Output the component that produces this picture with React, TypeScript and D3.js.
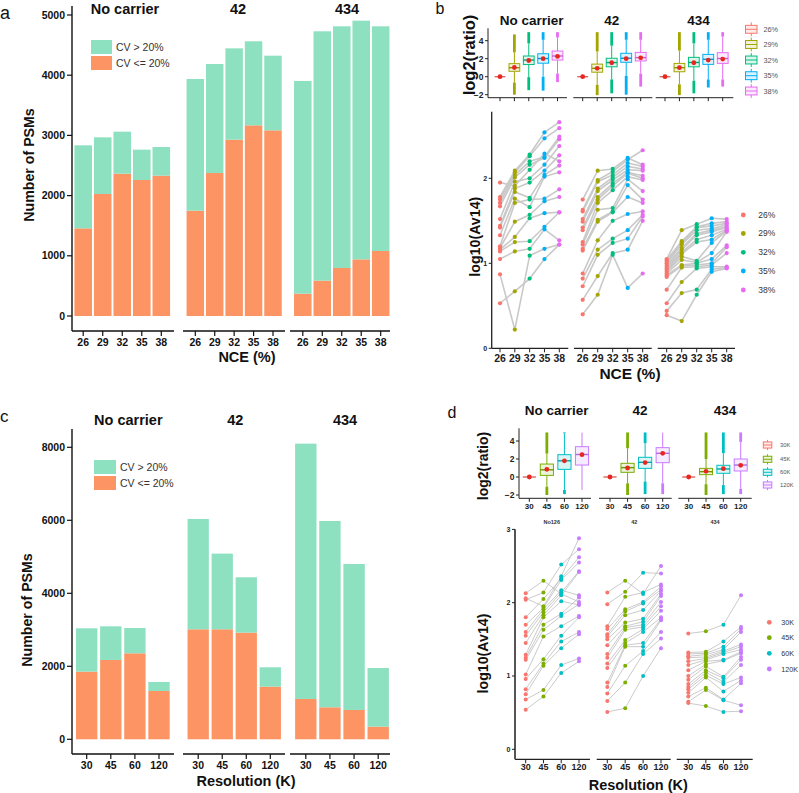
import React from 'react';
import * as d3 from 'd3';

const FONT = "'Liberation Sans', Arial, Helvetica, sans-serif";

// ---------------- data ----------------
const carriers = ['No carrier', '42', '434'];
const smallFacetTitles = ['No126', '42', '434'];
const nceLevels = ['26', '29', '32', '35', '38'];
const resLevels = ['30', '45', '60', '120'];
const nceLegend = ['26%', '29%', '32%', '35%', '38%'];
const resLegend = ['30K', '45K', '60K', '120K'];
const cvLabels = ['CV > 20%', 'CV <= 20%'];

// panel a: PSM counts (per carrier, per NCE)
const nceCvLow = [
  [1456, 2027, 2364, 2259, 2331],
  [1750, 2375, 2929, 3167, 3084],
  [371, 587, 797, 941, 1080],
];
const nceCvHigh = [
  [1379, 941, 698, 504, 476],
  [2187, 1811, 1517, 1396, 1240],
  [3533, 4142, 4015, 3965, 3732],
];
const nceYTicks = [0, 1000, 2000, 3000, 4000, 5000];

// panel c: PSM counts (per carrier, per resolution)
const resCvLow = [
  [1854, 2174, 2356, 1324],
  [3014, 3014, 2922, 1443],
  [1105, 877, 804, 347],
];
const resCvHigh = [
  [1187, 922, 694, 247],
  [3023, 2073, 1516, 530],
  [6995, 5105, 4000, 1607],
];
const resYTicks = [0, 2000, 4000, 6000, 8000];

// box stats: [q1, median, q3, mean, whiskerLow, whiskerHigh, outlierLow, outlierHigh]
const nceBoxStats = [
  [
    [0, 0, 0, 0, 0, 0, 0, 0],
    [0.6, 1.0, 1.45, 1.02, -0.65, 2.7, -2.0, 4.7],
    [1.35, 1.85, 2.3, 1.8, -0.05, 3.7, -1.5, 4.95],
    [1.5, 2.02, 2.55, 2.0, 0.0, 4.1, -1.55, 4.95],
    [1.85, 2.3, 2.85, 2.25, 0.35, 4.35, -0.6, 4.95],
  ],
  [
    [0, 0, 0, 0, 0, 0, 0, 0],
    [0.5, 0.93, 1.4, 0.93, -0.9, 2.8, -2.05, 4.95],
    [1.1, 1.57, 2.05, 1.55, -0.3, 3.45, -1.85, 4.95],
    [1.6, 2.05, 2.6, 2.0, 0.1, 4.1, -2.0, 4.95],
    [1.75, 2.12, 2.7, 2.1, 0.35, 4.1, -1.1, 4.95],
  ],
  [
    [0, 0, 0, 0, 0, 0, 0, 0],
    [0.55, 1.0, 1.48, 1.0, -0.85, 2.9, -2.05, 4.95],
    [1.1, 1.58, 2.15, 1.55, -0.45, 3.7, -1.85, 4.95],
    [1.37, 1.93, 2.48, 1.85, -0.3, 4.1, -1.2, 4.95],
    [1.48, 2.02, 2.67, 1.96, -0.3, 4.45, -1.1, 4.95],
  ],
];
const resBoxStats = [
  [
    [0, 0, 0, 0, 0, 0, 0, 0],
    [0.18, 0.8, 1.44, 0.85, -1.07, 2.6, -2.0, 4.95],
    [0.85, 1.8, 2.48, 1.8, -1.44, 4.85, -1.9, 4.95],
    [1.33, 2.5, 3.37, 2.48, -1.44, 4.93, -1.44, 4.93],
  ],
  [
    [0, 0, 0, 0, 0, 0, 0, 0],
    [0.52, 1.04, 1.52, 1.0, -0.7, 3.2, -2.0, 4.95],
    [0.96, 1.63, 2.19, 1.6, -0.5, 3.75, -1.9, 4.95],
    [1.59, 2.63, 3.26, 2.63, -0.7, 4.93, -1.9, 4.93],
  ],
  [
    [0, 0, 0, 0, 0, 0, 0, 0],
    [0.26, 0.59, 0.96, 0.63, -0.8, 2.0, -2.0, 4.95],
    [0.41, 0.89, 1.3, 0.93, -0.9, 2.65, -1.9, 4.95],
    [0.67, 1.33, 2.0, 1.3, -1.3, 3.9, -1.9, 4.95],
  ],
];
const ratioTicks = [-2, 0, 2, 4];

// peptide log10(Av14) per carrier; each row = one peptide across NCE 26..38
const nceAv14 = [
  [
    [1.95, 1.91, 2.1, 2.29, 2.2],
    [1.78, 2.09, 2.28, 2.54, 2.66],
    [1.75, 2.07, 2.26, 2.47, 2.59],
    [1.71, 2.04, 2.2, 2.25, 2.49],
    [1.67, 2.01, 2.16, 2.24, 2.46],
    [1.52, 1.96, 2.0, 2.16, 2.38],
    [1.44, 1.88, 1.95, 2.09, 2.27],
    [1.42, 1.84, 1.77, 2.04, 2.15],
    [1.33, 1.76, 1.66, 2.02, 2.07],
    [1.2, 1.71, 1.75, 1.76, 1.87],
    [1.18, 1.49, 1.57, 1.73, 1.78],
    [1.16, 1.31, 1.53, 1.59, 1.6],
    [1.14, 1.25, 1.26, 1.43, 1.6],
    [1.05, 1.14, 1.17, 1.4, 1.27],
    [0.87, 0.22, 1.09, 1.17, 1.22],
    [0.53, 0.67, 0.82, 1.05, 1.22],
  ],
  [
    [1.75, 2.09, 2.11, 2.24, 2.16],
    [1.63, 1.98, 2.08, 2.22, 2.33],
    [1.61, 1.96, 2.04, 2.18, 2.14],
    [1.52, 1.88, 2.01, 2.14, 2.11],
    [1.49, 1.85, 1.98, 2.1, 2.09],
    [1.42, 1.78, 1.94, 2.07, 2.03],
    [1.39, 1.75, 1.91, 2.06, 2.0],
    [1.25, 1.71, 1.86, 2.02, 1.98],
    [1.22, 1.63, 1.65, 1.99, 1.85],
    [1.17, 1.51, 1.61, 1.92, 1.75],
    [1.15, 1.49, 1.6, 1.78, 1.71],
    [0.88, 1.27, 1.5, 1.58, 1.61],
    [0.82, 1.16, 1.29, 1.39, 1.57],
    [0.73, 1.1, 1.24, 1.29, 1.55],
    [0.57, 0.85, 1.12, 1.16, 1.5],
    [0.4, 0.63, 1.1, 0.71, 0.88],
  ],
  [
    [1.05, 1.39, 1.46, 1.53, 1.52],
    [1.04, 1.26, 1.43, 1.47, 1.49],
    [1.02, 1.24, 1.42, 1.44, 1.47],
    [1.0, 1.22, 1.39, 1.41, 1.45],
    [0.98, 1.18, 1.35, 1.39, 1.43],
    [0.96, 1.16, 1.33, 1.37, 1.42],
    [0.94, 1.13, 1.28, 1.33, 1.4],
    [0.92, 1.11, 1.25, 1.28, 1.39],
    [0.9, 1.08, 1.03, 1.24, 1.38],
    [0.88, 1.04, 1.01, 1.12, 1.37],
    [0.86, 0.98, 1.0, 1.05, 1.21],
    [0.84, 0.97, 0.98, 1.0, 1.19],
    [0.69, 0.95, 0.96, 0.98, 1.12],
    [0.53, 0.78, 0.94, 0.96, 0.96],
    [0.44, 0.65, 0.69, 0.93, 0.95],
    [0.39, 0.32, 0.63, 0.9, 0.94],
  ],
];
const nceAvTicks = [0, 1, 2];

// peptide log10(Av14) per carrier; each row = one peptide across 30K..120K
const resAv14 = [
  [
    [2.13, 2.3, 2.12, 2.01],
    [2.06, 1.95, 2.36, 2.88],
    [2.04, 2.14, 2.52, 2.73],
    [1.8, 2.05, 2.33, 2.62],
    [1.7, 1.93, 2.31, 2.55],
    [1.6, 1.91, 2.17, 2.1],
    [1.55, 1.87, 2.14, 2.43],
    [1.45, 1.83, 2.1, 2.42],
    [1.29, 1.8, 2.02, 1.97],
    [1.25, 1.7, 1.85, 2.07],
    [1.22, 1.63, 1.82, 1.98],
    [1.02, 1.54, 1.68, 1.82],
    [0.96, 1.23, 1.55, 1.8],
    [0.82, 1.17, 1.47, 1.6],
    [0.75, 1.14, 1.38, 1.57],
    [0.68, 0.81, 1.15, 1.24],
    [0.54, 0.72, 1.04, 1.2],
  ],
  [
    [2.14, 2.3, 2.12, 2.5],
    [1.98, 2.15, 2.41, 2.4],
    [1.68, 2.08, 2.14, 2.25],
    [1.64, 1.91, 2.01, 2.22],
    [1.57, 1.88, 1.99, 2.18],
    [1.54, 1.83, 1.9, 2.16],
    [1.5, 1.73, 1.78, 2.12],
    [1.42, 1.68, 1.74, 2.09],
    [1.3, 1.66, 1.7, 2.01],
    [1.25, 1.63, 1.67, 1.95],
    [1.17, 1.49, 1.64, 1.89],
    [1.11, 1.45, 1.6, 1.8],
    [0.91, 1.42, 1.45, 1.78],
    [0.85, 1.4, 1.4, 1.76],
    [0.76, 1.14, 1.34, 1.6],
    [0.66, 0.91, 1.3, 1.51],
    [0.51, 0.56, 1.0, 1.38],
  ],
  [
    [1.58, 1.61, 1.7, 2.1],
    [1.32, 1.33, 1.47, 1.67],
    [1.3, 1.31, 1.4, 1.64],
    [1.27, 1.29, 1.36, 1.6],
    [1.25, 1.26, 1.34, 1.43],
    [1.2, 1.24, 1.32, 1.4],
    [1.15, 1.22, 1.3, 1.36],
    [1.08, 1.2, 1.22, 1.33],
    [1.0, 1.16, 1.21, 1.31],
    [0.95, 1.13, 0.99, 1.26],
    [0.89, 1.08, 0.97, 1.22],
    [0.85, 1.05, 0.92, 1.15],
    [0.82, 1.01, 0.89, 0.98],
    [0.77, 0.98, 0.79, 0.94],
    [0.72, 0.84, 0.68, 0.9],
    [0.65, 0.81, 0.67, 0.6],
    [0.63, 0.59, 0.51, 0.52],
  ],
];
const resAvTicks = [0, 1, 2, 3];

// ---------------- styles ----------------
const GREEN = '#8DE0C0';
const ORANGE = '#FC9464';
const HUE5 = ['#F8766D', '#A3A500', '#00BF7D', '#00B0F6', '#E76BF3'];
const HUE4 = ['#F8766D', '#7CAE00', '#00BFC4', '#C77CFF'];
const MEAN_RED = '#E8261F';

type Facet = { ax0: number; ax1: number; t0: number; t1: number };

function PanelLetter({ x, y, t, size }: { x: number; y: number; t: string; size: number }) {
  return (
    <text x={x} y={y} fontSize={size} fill="#111">
      {t}
    </text>
  );
}

function VTitle({ x, y, t, size }: { x: number; y: number; t: string; size: number }) {
  return (
    <text
      transform={`translate(${x},${y}) rotate(-90)`}
      textAnchor="middle"
      dy="0.35em"
      fontSize={size}
      fontWeight="bold"
      fill="#111"
    >
      {t}
    </text>
  );
}

function StackedBars(p: {
  levels: string[];
  low: number[][];
  high: number[][];
  yMax: number;
  yTicks: number[];
  y0: number;
  yTop: number;
  axisTop: number;
  xAxisY: number;
  yAxisX: number;
  facets: Facet[];
  barFrac: number;
  tickLabelY: number;
  xTitle: string;
  xTitleX: number;
  xTitleY: number;
  titleY: number;
  titleX: number[];
  legX: number;
  legY: number;
  legW: number;
  legH: number;
  legGap: number;
}) {
  const y = d3.scaleLinear().domain([0, p.yMax]).range([p.y0, p.yTop]);
  return (
    <g>
      {p.facets.map((f, fi) => {
        const x = d3.scalePoint<string>().domain(p.levels).range([f.t0, f.t1]);
        const bw = x.step() * p.barFrac;
        const rows = p.levels.map((lv, i) => ({ level: lv, low: p.low[fi][i], high: p.high[fi][i] }));
        const series = d3.stack<any>().keys(['low', 'high'])(rows);
        return (
          <g key={fi}>
            {series.map((s, si) =>
              s.map((d, di) => (
                <rect
                  key={si + '-' + di}
                  x={(x(rows[di].level) as number) - bw / 2}
                  y={y(d[1])}
                  width={bw}
                  height={y(d[0]) - y(d[1])}
                  fill={si === 0 ? ORANGE : GREEN}
                />
              ))
            )}
            <line x1={f.ax0} x2={f.ax1} y1={p.xAxisY} y2={p.xAxisY} stroke="#111" strokeWidth={1.4} />
            {p.levels.map((lv) => (
              <g key={lv}>
                <line x1={x(lv)} x2={x(lv)} y1={p.xAxisY} y2={p.xAxisY + 5} stroke="#111" strokeWidth={1.2} />
                <text x={x(lv)} y={p.tickLabelY} dy="0.35em" textAnchor="middle" fontSize={10.5} fontWeight="bold" fill="#111">
                  {lv}
                </text>
              </g>
            ))}
            <text x={p.titleX[fi]} y={p.titleY} dy="0.35em" textAnchor="middle" fontSize={14.5} fontWeight="bold" fill="#111">
              {carriers[fi]}
            </text>
          </g>
        );
      })}
      <line x1={p.yAxisX} x2={p.yAxisX} y1={p.axisTop} y2={p.xAxisY} stroke="#111" strokeWidth={1.4} />
      {p.yTicks.map((t) => (
        <g key={t}>
          <line x1={p.yAxisX - 5} x2={p.yAxisX} y1={y(t)} y2={y(t)} stroke="#111" strokeWidth={1.2} />
          <text x={p.yAxisX - 7} y={y(t)} dy="0.35em" textAnchor="end" fontSize={10.5} fontWeight="bold" fill="#111">
            {t}
          </text>
        </g>
      ))}
      <text x={p.xTitleX} y={p.xTitleY} dy="0.35em" textAnchor="middle" fontSize={14.5} fontWeight="bold" fill="#111">
        {p.xTitle}
      </text>
      {cvLabels.map((lab, i) => (
        <g key={lab}>
          <rect x={p.legX} y={p.legY + i * p.legGap} width={p.legW} height={p.legH} fill={i === 0 ? GREEN : ORANGE} />
          <text x={p.legX + p.legW + 4} y={p.legY + i * p.legGap + p.legH / 2} dy="0.35em" fontSize={10.5} fill="#333">
            {lab}
          </text>
        </g>
      ))}
    </g>
  );
}

function BoxPanel(p: {
  levels: string[];
  stats: number[][][];
  colors: string[];
  y0: number;
  ppu: number;
  yTicks: number[];
  axisTop: number;
  xAxisY: number;
  yAxisX: number;
  facets: Facet[];
  boxFrac: number;
  tickLabels: boolean;
  tickLabelY: number;
  tickFont: number;
  titleY: number;
  titleX: number[];
  titleSize: number;
  legend: string[];
  legX: number;
  legW: number;
  legYs: number[];
  legTextX: number;
  legFont: number;
}) {
  const y = d3.scaleLinear().domain([0, 1]).range([p.y0, p.y0 - p.ppu]);
  return (
    <g>
      {p.facets.map((f, fi) => {
        const x = d3.scalePoint<string>().domain(p.levels).range([f.t0, f.t1]);
        const bw = x.step() * p.boxFrac;
        return (
          <g key={fi}>
            {p.levels.map((lv, li) => {
              const [q1, med, q3, mean, wLo, wHi, oLo, oHi] = p.stats[fi][li];
              const cx = x(lv) as number;
              const c = p.colors[li];
              const dark = d3.color(c)!.darker(0.4).toString();
              return (
                <g key={lv}>
                  {oHi > wHi && <line x1={cx} x2={cx} y1={y(wHi)} y2={y(oHi)} stroke={c} strokeWidth={2.8} />}
                  {oLo < wLo && <line x1={cx} x2={cx} y1={y(wLo)} y2={y(oLo)} stroke={c} strokeWidth={2.8} />}
                  <line x1={cx} x2={cx} y1={y(wHi)} y2={y(q3)} stroke={c} strokeWidth={1} />
                  <line x1={cx} x2={cx} y1={y(q1)} y2={y(wLo)} stroke={c} strokeWidth={1} />
                  <rect
                    x={cx - bw / 2}
                    y={y(q3)}
                    width={bw}
                    height={Math.max(y(q1) - y(q3), 0)}
                    fill={c}
                    fillOpacity={0.15}
                    stroke={c}
                    strokeWidth={1}
                  />
                  <line x1={cx - bw / 2} x2={cx + bw / 2} y1={y(med)} y2={y(med)} stroke={dark} strokeWidth={1.4} />
                  <circle cx={cx} cy={y(mean)} r={2.4} fill={MEAN_RED} />
                </g>
              );
            })}
            <line x1={f.ax0} x2={f.ax1} y1={p.xAxisY} y2={p.xAxisY} stroke="#222" strokeWidth={1} />
            {p.levels.map((lv) => (
              <g key={lv}>
                <line x1={x(lv)} x2={x(lv)} y1={p.xAxisY} y2={p.xAxisY + 3.5} stroke="#222" strokeWidth={1} />
                {p.tickLabels && (
                  <text x={x(lv)} y={p.tickLabelY} dy="0.35em" textAnchor="middle" fontSize={p.tickFont} fontWeight="bold" fill="#222">
                    {lv}
                  </text>
                )}
              </g>
            ))}
            <text x={p.titleX[fi]} y={p.titleY} dy="0.35em" textAnchor="middle" fontSize={p.titleSize} fontWeight="bold" fill="#111">
              {carriers[fi]}
            </text>
          </g>
        );
      })}
      <line x1={p.yAxisX} x2={p.yAxisX} y1={p.axisTop} y2={p.xAxisY} stroke="#222" strokeWidth={1} />
      {p.yTicks.map((t) => (
        <g key={t}>
          <line x1={p.yAxisX - 3} x2={p.yAxisX} y1={y(t)} y2={y(t)} stroke="#222" strokeWidth={1} />
          <text x={p.yAxisX - 4.5} y={y(t)} dy="0.35em" textAnchor="end" fontSize={8.5} fontWeight="bold" fill="#222">
            {t < 0 ? '\u2212' + Math.abs(t) : t}
          </text>
        </g>
      ))}
      {p.legend.map((lab, i) => {
        const c = p.colors[i];
        const yc = p.legYs[i];
        const cx = p.legX + p.legW / 2;
        const bh = p.legW * 0.6;
        return (
          <g key={lab}>
            <line x1={cx} x2={cx} y1={yc - bh} y2={yc + bh} stroke={c} strokeWidth={1} />
            <rect x={p.legX} y={yc - bh / 2 - 0.5} width={p.legW} height={bh + 1} fill="#fff" stroke={c} strokeWidth={1} />
            <rect x={p.legX} y={yc - bh / 2 - 0.5} width={p.legW} height={bh + 1} fill={c} fillOpacity={0.15} />
            <line x1={p.legX} x2={p.legX + p.legW} y1={yc} y2={yc} stroke={c} strokeWidth={1} />
            <text x={p.legTextX} y={yc} dy="0.35em" fontSize={p.legFont} fill="#555">
              {lab}
            </text>
          </g>
        );
      })}
    </g>
  );
}

function LinePanel(p: {
  levels: string[];
  rows: number[][][];
  colors: string[];
  y0: number;
  ppu: number;
  yTicks: number[];
  axisTop: number;
  xAxisY: number;
  yAxisX: number;
  yAxisW: number;
  yAxisColor: string;
  facets: Facet[];
  lineW: number;
  lineColor: string;
  r: number;
  tickLabelY: number;
  tickFont: number;
  yTickFont: number;
  xTitle: string;
  xTitleX: number;
  xTitleY: number;
  xTitleSize: number;
  titles?: string[];
  titleY?: number;
  titleX?: number[];
  legend: string[];
  legDotX: number;
  legTextX: number;
  legYs: number[];
  legFont: number;
}) {
  const y = d3.scaleLinear().domain([0, 1]).range([p.y0, p.y0 - p.ppu]);
  return (
    <g>
      {p.facets.map((f, fi) => {
        const x = d3.scalePoint<string>().domain(p.levels).range([f.t0, f.t1]);
        const lineGen = d3
          .line<number>()
          .x((_, i) => x(p.levels[i]) as number)
          .y((v) => y(v));
        const rows = p.rows[fi];
        return (
          <g key={fi}>
            {rows.map((r, ri) => (
              <path key={ri} d={lineGen(r) || ''} fill="none" stroke={p.lineColor} strokeWidth={p.lineW} />
            ))}
            {p.levels.map((lv, li) =>
              rows.map((r, ri) => <circle key={lv + '-' + ri} cx={x(lv)} cy={y(r[li])} r={p.r} fill={p.colors[li]} />)
            )}
            <line x1={f.ax0} x2={f.ax1} y1={p.xAxisY} y2={p.xAxisY} stroke="#222" strokeWidth={1.3} />
            {p.levels.map((lv) => (
              <g key={lv}>
                <line x1={x(lv)} x2={x(lv)} y1={p.xAxisY} y2={p.xAxisY + 4} stroke="#222" strokeWidth={1} />
                <text x={x(lv)} y={p.tickLabelY} dy="0.35em" textAnchor="middle" fontSize={p.tickFont} fontWeight="bold" fill="#222">
                  {lv}
                </text>
              </g>
            ))}
            {p.titles && (
              <text x={p.titleX![fi]} y={p.titleY} dy="0.35em" textAnchor="middle" fontSize={5.5} fontWeight="bold" fill="#333">
                {p.titles[fi]}
              </text>
            )}
          </g>
        );
      })}
      <line x1={p.yAxisX} x2={p.yAxisX} y1={p.axisTop} y2={p.xAxisY} stroke={p.yAxisColor} strokeWidth={p.yAxisW} />
      {p.yTicks.map((t) => (
        <g key={t}>
          <line x1={p.yAxisX - 3} x2={p.yAxisX} y1={y(t)} y2={y(t)} stroke="#222" strokeWidth={1} />
          <text x={p.yAxisX - 4.5} y={y(t)} dy="0.35em" textAnchor="end" fontSize={p.yTickFont} fontWeight="bold" fill="#222">
            {t}
          </text>
        </g>
      ))}
      <text x={p.xTitleX} y={p.xTitleY} dy="0.35em" textAnchor="middle" fontSize={p.xTitleSize} fontWeight="bold" fill="#111">
        {p.xTitle}
      </text>
      {p.legend.map((lab, i) => (
        <g key={lab}>
          <circle cx={p.legDotX} cy={p.legYs[i]} r={2.4} fill={p.colors[i]} />
          <text x={p.legTextX} y={p.legYs[i]} dy="0.35em" fontSize={p.legFont} fill="#333">
            {lab}
          </text>
        </g>
      ))}
    </g>
  );
}

export default function App() {
  return (
    <svg
      width={799}
      height={793}
      viewBox="0 0 799 793"
      style={{ position: 'absolute', left: 0, top: 0, background: '#fff' }}
      fontFamily={FONT}
    >
      <rect x={0} y={0} width={799} height={793} fill="#fff" />
      {/* panel letters */}
      <PanelLetter x={0} y={18.5} t="a" size={18} />
      <PanelLetter x={435.5} y={13.5} t="b" size={16} />
      <PanelLetter x={0} y={421.5} t="c" size={17} />
      <PanelLetter x={447.5} y={417.5} t="d" size={16} />

      {/* ---- panel a ---- */}
      <StackedBars
        levels={nceLevels}
        low={nceCvLow}
        high={nceCvHigh}
        yMax={5000}
        yTicks={nceYTicks}
        y0={316}
        yTop={15}
        axisTop={6}
        xAxisY={331}
        yAxisX={72}
        facets={[
          { ax0: 72, ax1: 174, t0: 83.2, t1: 161.3 },
          { ax0: 183, ax1: 285, t0: 195.3, t1: 273 },
          { ax0: 290, ax1: 390, t0: 302.8, t1: 380.7 },
        ]}
        barFrac={0.9}
        tickLabelY={342}
        xTitle="NCE (%)"
        xTitleX={247}
        xTitleY={357}
        titleY={8.5}
        titleX={[125, 238, 347]}
        legX={91}
        legY={40}
        legW={21}
        legH={14}
        legGap={16}
      />
      <VTitle x={29} y={165} t="Number of PSMs" size={14.2} />

      {/* ---- panel c ---- */}
      <StackedBars
        levels={resLevels}
        low={resCvLow}
        high={resCvHigh}
        yMax={8000}
        yTicks={resYTicks}
        y0={739.3}
        yTop={447.3}
        axisTop={429}
        xAxisY={754}
        yAxisX={72}
        facets={[
          { ax0: 72, ax1: 174, t0: 86.7, t1: 159 },
          { ax0: 183, ax1: 285, t0: 198.2, t1: 270.3 },
          { ax0: 290, ax1: 390, t0: 305.8, t1: 378.2 },
        ]}
        barFrac={0.885}
        tickLabelY={765.7}
        xTitle="Resolution (K)"
        xTitleX={246}
        xTitleY={781}
        titleY={420}
        titleX={[128.3, 235.3, 345]}
        legX={94}
        legY={460}
        legW={22}
        legH={14}
        legGap={16}
      />
      <VTitle x={27.5} y={610} t="Number of PSMs" size={14.2} />

      {/* ---- panel b top ---- */}
      <BoxPanel
        levels={nceLevels}
        stats={nceBoxStats}
        colors={HUE5}
        y0={76.7}
        ppu={9}
        yTicks={ratioTicks}
        axisTop={28.3}
        xAxisY={97.7}
        yAxisX={488}
        facets={[
          { ax0: 488, ax1: 567, t0: 500, t1: 557.5 },
          { ax0: 573.3, ax1: 652.3, t0: 582.7, t1: 640.7 },
          { ax0: 655.7, ax1: 733.3, t0: 665, t1: 722.7 },
        ]}
        boxFrac={0.75}
        tickLabels={false}
        tickLabelY={0}
        tickFont={8}
        titleY={20.7}
        titleX={[531.7, 611.7, 698.5]}
        titleSize={13.5}
        legend={nceLegend}
        legX={745.5}
        legW={11.5}
        legYs={[29.3, 44.5, 60, 75.7, 91]}
        legTextX={763.5}
        legFont={7.3}
      />
      <VTitle x={469} y={55} t="log2(ratio)" size={16.5} />

      {/* ---- panel b bottom ---- */}
      <LinePanel
        levels={nceLevels}
        rows={nceAv14}
        colors={HUE5}
        y0={348.3}
        ppu={85}
        yTicks={nceAvTicks}
        axisTop={111.7}
        xAxisY={348.3}
        yAxisX={491.7}
        yAxisW={1.3}
        yAxisColor="#222"
        facets={[
          { ax0: 491.7, ax1: 568.3, t0: 500, t1: 559.3 },
          { ax0: 574, ax1: 651.7, t0: 582.7, t1: 642.7 },
          { ax0: 657.7, ax1: 735, t0: 666.7, t1: 726.7 },
        ]}
        lineW={1.6}
        lineColor="#C9C9C9"
        r={2.1}
        tickLabelY={358.3}
        tickFont={10.5}
        yTickFont={7}
        xTitle="NCE (%)"
        xTitleX={630}
        xTitleY={373.3}
        xTitleSize={15.5}
        legend={nceLegend}
        legDotX={743.3}
        legTextX={758.3}
        legYs={[215, 233.5, 252.3, 271, 290]}
        legFont={8.5}
      />
      <VTitle x={475} y={236.7} t="log10(Av14)" size={14.2} />

      {/* ---- panel d top ---- */}
      <BoxPanel
        levels={resLevels}
        stats={resBoxStats}
        colors={HUE4}
        y0={477}
        ppu={9}
        yTicks={ratioTicks}
        axisTop={428.3}
        xAxisY={498.3}
        yAxisX={519}
        facets={[
          { ax0: 519, ax1: 591, t0: 529.3, t1: 582 },
          { ax0: 599, ax1: 671.7, t0: 610, t1: 662.7 },
          { ax0: 678.3, ax1: 751.7, t0: 688.7, t1: 740.7 },
        ]}
        boxFrac={0.75}
        tickLabels={true}
        tickLabelY={506.3}
        tickFont={8}
        titleY={410.7}
        titleX={[556.7, 640, 725]}
        titleSize={13.5}
        legend={resLegend}
        legX={763.3}
        legW={8.5}
        legYs={[445, 459.3, 472.3, 485]}
        legTextX={780}
        legFont={5.8}
      />
      <VTitle x={483} y={466} t="log2(ratio)" size={14} />

      {/* ---- panel d bottom ---- */}
      <LinePanel
        levels={resLevels}
        rows={resAv14}
        colors={HUE4}
        y0={749.3}
        ppu={73.3}
        yTicks={resAvTicks}
        axisTop={529.3}
        xAxisY={759.3}
        yAxisX={515}
        yAxisW={2}
        yAxisColor="#555"
        facets={[
          { ax0: 515, ax1: 590, t0: 525.7, t1: 579 },
          { ax0: 596.7, ax1: 670.7, t0: 607.3, t1: 661 },
          { ax0: 676.7, ax1: 752.7, t0: 688.3, t1: 741 },
        ]}
        lineW={0.8}
        lineColor="#BDBDBD"
        r={2}
        tickLabelY={767.3}
        tickFont={9}
        yTickFont={7}
        xTitle="Resolution (K)"
        xTitleX={638.3}
        xTitleY={785}
        xTitleSize={14.5}
        titles={smallFacetTitles}
        titleY={522.3}
        titleX={[551.7, 634.3, 715]}
        legend={resLegend}
        legDotX={769.3}
        legTextX={781.2}
        legYs={[622.3, 637.7, 653.3, 669]}
        legFont={7.2}
      />
      <VTitle x={483.3} y={653.5} t="log10(Av14)" size={14.2} />
    </svg>
  );
}
